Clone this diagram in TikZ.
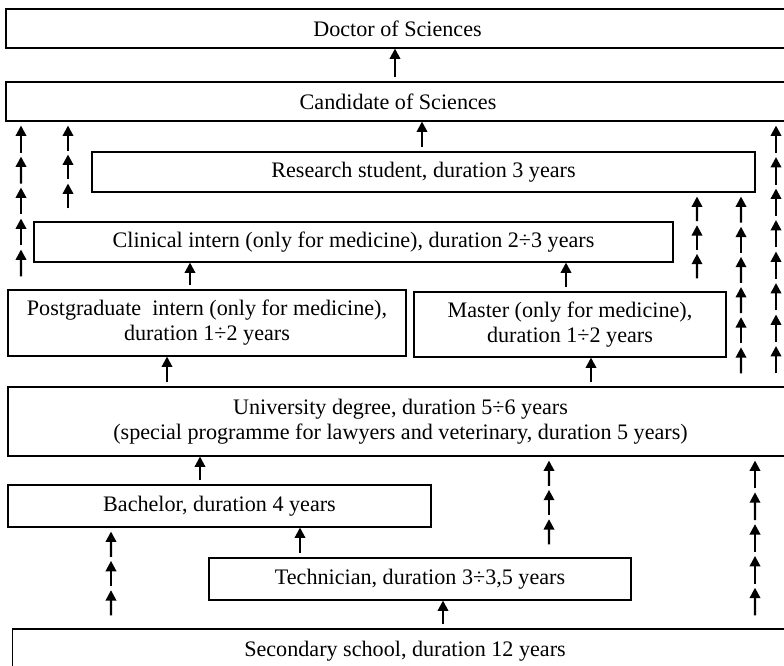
\documentclass[tikz,border=0pt]{standalone}
\usepackage{fontspec}
\setmainfont{Liberation Serif}
\usetikzlibrary{arrows.meta,calc}

\tikzset{
  stage/.style={draw, line width=0.8pt, inner sep=0pt, align=center,
    font=\fontsize{16.6}{18.8}\selectfont},
  wh/.style 2 args={minimum width=#1*0.75pt, minimum height=#2*0.75pt},
  up/.style={-{Triangle[length=7.8pt,width=7.8pt]}, line width=1.7pt, shorten <=3pt},
}

% run of short arrows from the top of #1 to the bottom of #2 along lane #3
\newcommand\arrowrun[4]{%
  \path (#1.north -| #3) ++(0,-9) coordinate (hs) (#2.south -| #3) ++(0,4) coordinate (ht);
  \foreach \k in {1,...,#4}
    \draw[up] ($(hs)!{(\k-1)/#4}!(ht)$) -- ($(hs)!{\k/#4}!(ht)$);
}

\begin{document}
\begin{tikzpicture}[x=0.75pt, y=-0.75pt]
    \clip (0,0) rectangle (784,666);

    \node[stage, wh={783}{39}] (doc) at (397.5,28.5) {Doctor of Sciences};
    \node[stage, wh={784}{39}] (cand) at (398,101.5) {Candidate of Sciences};
    \node[stage, wh={663}{40}] (res) at (423.5,172) {Research student, duration 3 years};
    \node[stage, wh={639}{40}] (clin) at (353.5,242) {Clinical intern (only for medicine), duration 2÷3 years};
    \node[stage, wh={398}{66}] (pg) at (207,323) {Postgraduate\ \ intern (only for medicine),\\ duration 1÷2 years};
    \node[stage, wh={312}{65}] (mas) at (570,324.5) {Master (only for medicine),\\ duration 1÷2 years};
    \node[stage, wh={785}{69}] (uni) at (400.5,421.5) {University degree, duration 5÷6 years\\ (special programme for lawyers and veterinary, duration 5 years)};
    \node[stage, wh={423}{42}] (bach) at (219.5,506) {Bachelor, duration 4 years};
    \node[stage, wh={422}{42}] (tech) at (420,579) {Technician, duration 3÷3,5 years};
    \node[stage, wh={785}{44}] (sec) at (405,651) {Secondary school, duration 12 years};

    % lanes
    \coordinate (x21) at (21,0);
    \coordinate (x68) at (68,0);
    \coordinate (x111) at (111,0);
    \coordinate (x167) at (167,0);
    \coordinate (x190) at (190,0);
    \coordinate (x200) at (200,0);
    \coordinate (x300) at (300,0);
    \coordinate (x395) at (395,0);
    \coordinate (x422) at (422,0);
    \coordinate (x443) at (443,0);
    \coordinate (x549) at (549,0);
    \coordinate (x566) at (566,0);
    \coordinate (x591) at (591,0);
    \coordinate (x697) at (697,0);
    \coordinate (x741) at (741,0);
    \coordinate (x755) at (755,0);
    \coordinate (x776) at (776,0);

    \draw[up] (cand.north -| x395) -- (doc.south -| x395);
    \draw[up] (res.north -| x422) -- (cand.south -| x422);
    \draw[up] (pg.north -| x190) -- (clin.south -| x190);
    \draw[up] (mas.north -| x566) -- (clin.south -| x566);
    \draw[up] (uni.north -| x167) -- (pg.south -| x167);
    \draw[up] (uni.north -| x591) -- (mas.south -| x591);
    \draw[up] (bach.north -| x200) -- (uni.south -| x200);
    \draw[up] (tech.north -| x300) -- (bach.south -| x300);
    \draw[up] (sec.north -| x443) -- (tech.south -| x443);

    \arrowrun{pg}{cand}{x21}{5}
    \arrowrun{clin}{cand}{x68}{3}
    \arrowrun{mas}{res}{x697}{3}
    \arrowrun{uni}{res}{x741}{6}
    \arrowrun{uni}{cand}{x776}{8}
    \arrowrun{sec}{bach}{x111}{3}
    \arrowrun{tech}{uni}{x549}{3}
    \arrowrun{sec}{uni}{x755}{5}

\end{tikzpicture}
\end{document}
